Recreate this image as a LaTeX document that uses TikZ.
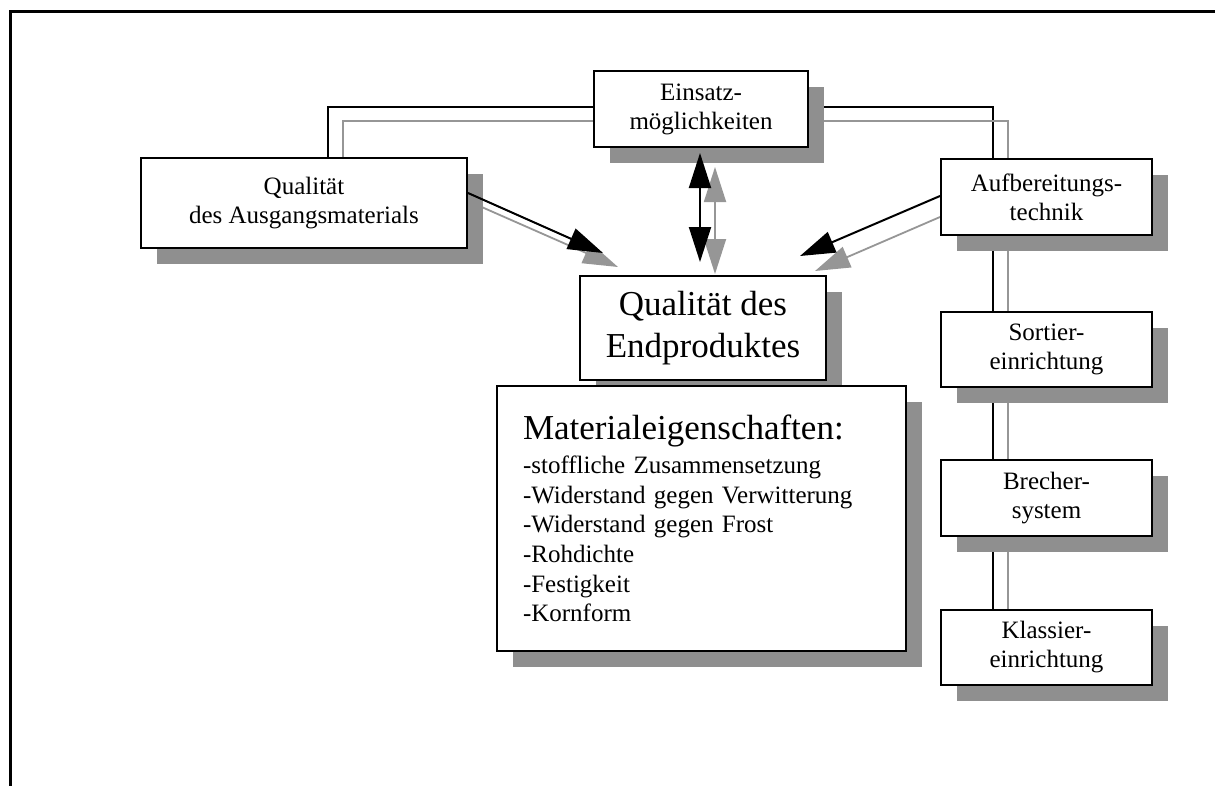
\documentclass[tikz,border=0pt]{standalone}
\usepackage{fontspec}
\setmainfont{Liberation Serif}
\usetikzlibrary{arrows.meta,shadows,calc}
\pgfdeclarelayer{background}
\pgfsetlayers{background,main}
\definecolor{shadowgray}{RGB}{143,143,143}
\definecolor{linegray}{RGB}{150,150,150}
\begin{document}
\begin{tikzpicture}[x=1pt,y=-1pt,
  box/.style={draw=black, line width=2pt, fill=white, inner sep=0pt, align=center,
     drop shadow={shadow xshift=16pt, shadow yshift=-16pt, fill=shadowgray, opacity=1},
     font=\fontsize{25}{29}\selectfont},
  blk/.style={draw=black, line width=2pt},
  gry/.style={draw=linegray, line width=1.8pt},
  tipa/.style={-{Triangle[length=35pt,width=22pt]}},
  dtipa/.style={{Triangle[length=35pt,width=22pt]}-{Triangle[length=35pt,width=22pt]}},
  frame/.style={draw=black, line width=3pt}
]
\useasboundingbox (0,0) rectangle (1215,785);
\draw[frame] (10.5,800) -- (10.5,11.5) -- (1230,11.5);

% boxes
\node[box, minimum width=326pt, minimum height=90pt] (qa) at (304,203) {Qualität\\des Ausgangsmaterials};
\node[box, minimum width=214pt, minimum height=76pt] (ein) at (701,109) {Einsatz-\\möglichkeiten};
\node[box, minimum width=211pt, minimum height=76pt] (auf) at (1046.5,197) {Aufbereitungs-\\technik};
\node[box, minimum width=246pt, minimum height=104pt, font=\fontsize{35}{42}\selectfont] (end) at (703,328) {Qualität des\\Endproduktes};
\node[box, minimum width=409pt, minimum height=265pt, text width=357pt, align=left, inner xsep=26pt,
      font=\fontsize{25}{29.7}\selectfont] (mat) at (701.5,518.5)
  {{\fontsize{35}{42}\selectfont Materialeigenschaften:}\\[4pt]
   -stoffliche Zusammensetzung\\
   -Widerstand gegen Verwitterung\\
   -Widerstand gegen Frost\\
   -Rohdichte\\
   -Festigkeit\\
   -Kornform};
\node[box, minimum width=211pt, minimum height=75pt] (sor) at (1046.5,349.5) {Sortier-\\einrichtung};
\node[box, minimum width=211pt, minimum height=76pt] (bre) at (1046.5,498) {Brecher-\\system};
\node[box, minimum width=211pt, minimum height=75pt] (kla) at (1046.5,647.5) {Klassier-\\einrichtung};

% bend points and arrow ends
\coordinate (bl) at (328,107);
\coordinate (gl) at (343,121);
\coordinate (br) at (993,107);
\coordinate (gr) at (1008,121);
\coordinate (a1) at (603,253);
\coordinate (a1g) at (618,267);
\coordinate (a2) at (800,256);
\coordinate (a2g) at (815,271);
\coordinate (v1) at (700,153);
\coordinate (v2) at (700,262);
\coordinate (v3) at (715,167);
\coordinate (v4) at (715,274);

\begin{pgfonlayer}{background}
  \draw[blk] (bl |- qa.north) -- (bl) -- (bl -| ein.west);
  \draw[gry] (gl |- qa.north) -- (gl) -- (gl -| ein.west);
  \draw[blk] (br -| ein.east) -- (br) -- (br |- auf.north);
  \draw[gry] (gr -| ein.east) -- (gr) -- (gr |- auf.north);
  \draw[blk] (br |- auf.south) -- (br |- sor.north);
  \draw[gry] (gr |- auf.south) -- (gr |- sor.north);
  \draw[blk] (br |- sor.south) -- (br |- bre.north);
  \draw[gry] (gr |- sor.south) -- (gr |- bre.north);
  \draw[blk] (br |- bre.south) -- (br |- kla.north);
  \draw[gry] (gr |- bre.south) -- (gr |- kla.north);
  \draw[gry,tipa] (qa.east |- 0,201) -- (a1g);
  \draw[gry,tipa] (auf.west |- 0,217) -- (a2g);
  \draw[gry,dtipa] (v3) -- (v4);
\end{pgfonlayer}

\draw[blk,tipa] (qa.east |- 0,193) -- (a1);
\draw[blk,tipa] (auf.west |- 0,196) -- (a2);
\draw[blk,dtipa] (v1) -- (v2);
\end{tikzpicture}
\end{document}
